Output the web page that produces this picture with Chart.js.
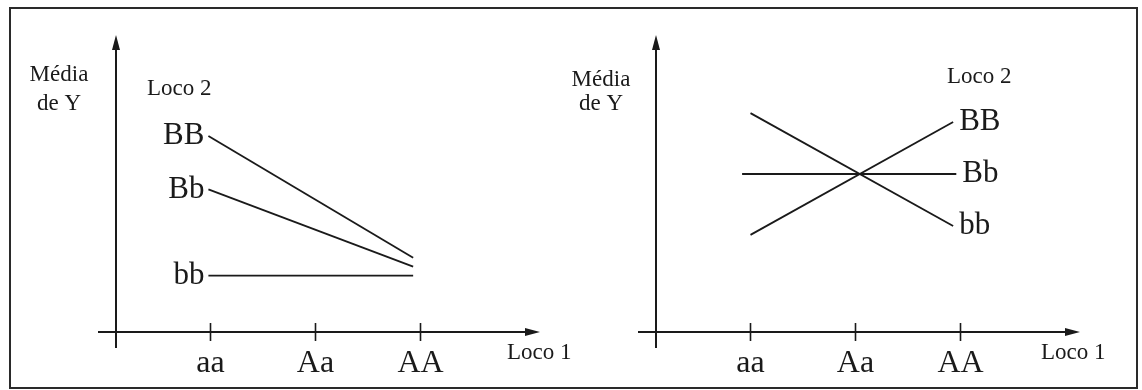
<!DOCTYPE html>
<html>
<head>
<meta charset="utf-8">
<script src="https://cdn.jsdelivr.net/npm/chart.js@4"></script>
<style>
  html, body { margin: 0; padding: 0; background: #fff; }
  #wrap { position: relative; width: 1142px; height: 390px; overflow: hidden; }
  #frame { position: absolute; left: 9px; top: 7px; width: 1125px; height: 378px; border: 2px solid #2a2a2a; }
  canvas { position: absolute; top: 0; }
  #left { left: 0; }
  #right { left: 571px; }
</style>
</head>
<body>
<div id="wrap">
  <div id="frame"></div>
  <canvas id="left" width="571" height="390"></canvas>
  <canvas id="right" width="571" height="390"></canvas>
</div>
<script>
const genotypes = ['aa', 'Aa', 'AA'];   // Loco 1
const locus2 = ['BB', 'Bb', 'bb'];      // Loco 2

// left panel: no crossing, lines converge towards AA
const leftX = [0.98, 2.93];
const leftBB = [6.6, 2.5];
const leftBb = [4.8, 2.2];
const leftbb = [1.9, 1.9];

// right panel: lines cross at Aa
const rightX = [1.0, 2.93];
const rightBbX = [0.92, 2.96];
const rightBB = [3.27, 7.07];
const rightBb = [5.32, 5.32];
const rightbb = [7.37, 3.57];

const INK = '#1a1a1a';
const SERIF = "'Liberation Serif', 'DejaVu Serif', serif";

function pts(xs, ys) {
  return xs.map((x, i) => ({ x: x, y: ys[i] }));
}

// axes with arrows, crossing tick marks, line labels and axis captions
const sketchAxes = {
  id: 'sketchAxes',
  afterDraw(chart, args, opts) {
    const ctx = chart.ctx;
    const a = chart.chartArea;
    const xs = chart.scales.x;
    const y0 = chart.scales.y.getPixelForValue(0);
    ctx.save();
    ctx.strokeStyle = INK;
    ctx.fillStyle = INK;
    ctx.lineWidth = 2;

    // x axis
    const tipX = a.right + 4;
    ctx.beginPath();
    ctx.moveTo(a.left - 18, y0);
    ctx.lineTo(tipX - 10, y0);
    ctx.stroke();
    ctx.beginPath();
    ctx.moveTo(tipX, y0);
    ctx.lineTo(tipX - 15, y0 - 4);
    ctx.lineTo(tipX - 15, y0 + 4);
    ctx.closePath();
    ctx.fill();

    // y axis
    ctx.beginPath();
    ctx.moveTo(a.left, y0 + 16);
    ctx.lineTo(a.left, a.top + 10);
    ctx.stroke();
    ctx.beginPath();
    ctx.moveTo(a.left, a.top);
    ctx.lineTo(a.left - 4, a.top + 15);
    ctx.lineTo(a.left + 4, a.top + 15);
    ctx.closePath();
    ctx.fill();

    // tick marks across the x axis
    ctx.lineWidth = 1.6;
    genotypes.forEach((g, i) => {
      const px = xs.getPixelForValue(i + 1);
      ctx.beginPath();
      ctx.moveTo(px, y0 - 9);
      ctx.lineTo(px, y0 + 9);
      ctx.stroke();
    });

    // Loco 2 genotype next to each line
    ctx.font = '31px ' + SERIF;
    ctx.textBaseline = 'middle';
    chart.data.datasets.forEach((ds, k) => {
      const meta = chart.getDatasetMeta(k);
      if (opts.side === 'start') {
        const p = meta.data[0];
        ctx.textAlign = 'right';
        ctx.fillText(ds.label, p.x - 4, p.y);
      } else {
        const p = meta.data[meta.data.length - 1];
        ctx.textAlign = 'left';
        ctx.fillText(ds.label, p.x + 6, p.y);
      }
    });

    // captions
    ctx.font = '23px ' + SERIF;
    ctx.textAlign = 'center';
    ctx.fillText('Média', opts.yTitle[0], opts.yTitle[1]);
    ctx.fillText('de Y', opts.yTitle[0], opts.yTitle[2]);
    ctx.textAlign = 'left';
    ctx.fillText('Loco 2', opts.loco2[0], opts.loco2[1]);
    ctx.fillText('Loco 1', opts.loco1[0], opts.loco1[1]);
    ctx.restore();
  }
};

function panel(id, datasets, pad, opts) {
  return new Chart(document.getElementById(id), {
    type: 'line',
    data: { datasets: datasets },
    plugins: [sketchAxes],
    options: {
      responsive: false,
      animation: false,
      layout: { padding: pad },
      plugins: {
        legend: { display: false },
        tooltip: { enabled: false },
        sketchAxes: opts
      },
      elements: {
        line: { borderColor: INK, borderWidth: 1.8, tension: 0, fill: false },
        point: { radius: 0 }
      },
      scales: {
        x: {
          type: 'linear',
          min: 0.1,
          max: 4.1,
          border: { display: false },
          grid: { drawOnChartArea: false, drawTicks: true, tickLength: 9, color: 'rgba(0,0,0,0)' },
          ticks: {
            color: INK,
            padding: 3,
            font: { family: SERIF, size: 32 },
            callback: v => genotypes[v - 1] || ''
          },
          afterBuildTicks: s => { s.ticks = genotypes.map((g, i) => ({ value: i + 1 })); },
          afterFit: s => { s.height = 50; }
        },
        y: { type: 'linear', min: 0, max: 10, display: false }
      }
    }
  });
}

panel('left', [
  { label: locus2[0], data: pts(leftX, leftBB) },
  { label: locus2[1], data: pts(leftX, leftBb) },
  { label: locus2[2], data: pts(leftX, leftbb) }
], { left: 116, right: 35, top: 35, bottom: 8 }, {
  side: 'start',
  yTitle: [59, 75, 104],
  loco2: [147, 89],
  loco1: [507, 353]
});

panel('right', [
  { label: locus2[0], data: pts(rightX, rightBB) },
  { label: locus2[1], data: pts(rightBbX, rightBb) },
  { label: locus2[2], data: pts(rightX, rightbb) }
], { left: 85, right: 66, top: 35, bottom: 8 }, {
  side: 'end',
  yTitle: [30, 80, 104],
  loco2: [376, 77],
  loco1: [470, 353]
});
</script>
</body>
</html>
